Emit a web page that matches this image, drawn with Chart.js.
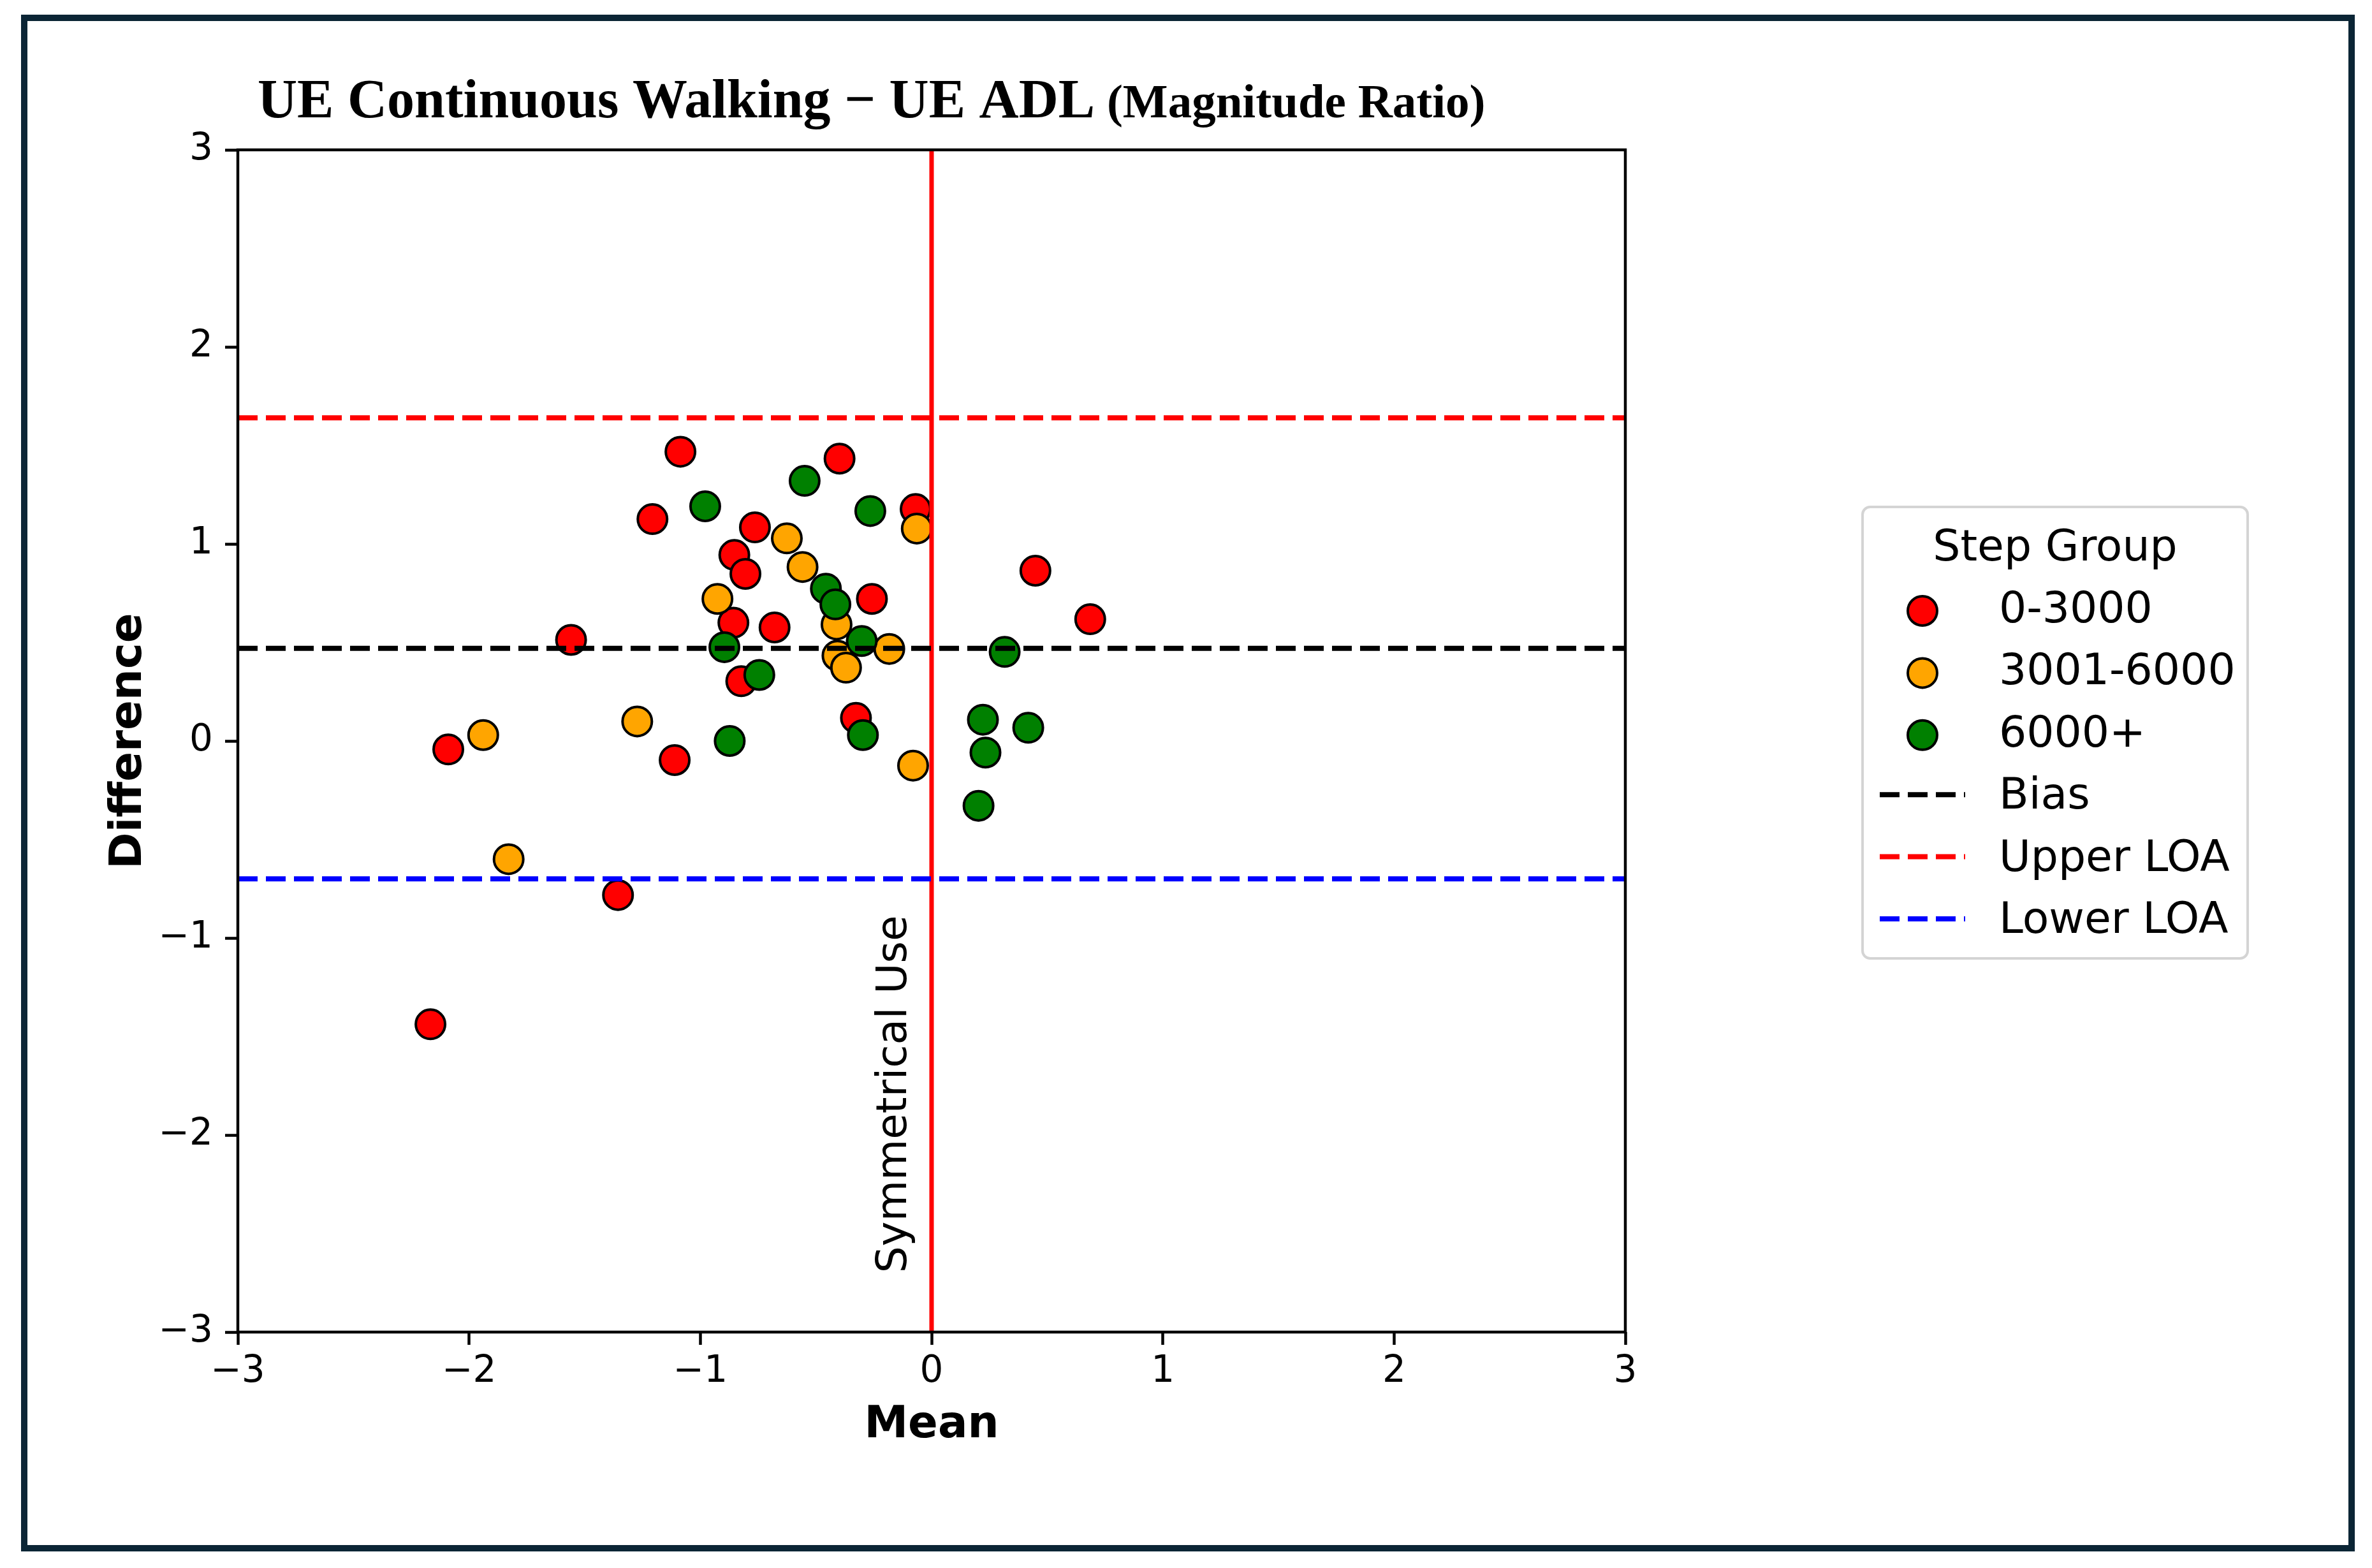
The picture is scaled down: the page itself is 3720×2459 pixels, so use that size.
<!DOCTYPE html>
<html>
<head>
<meta charset="utf-8">
<script src="https://cdn.jsdelivr.net/npm/chart.js@4.4.1/dist/chart.umd.min.js"></script>
<style>
  html, body { margin: 0; padding: 0; background: #fff; }
  #wrap { position: relative; width: 3720px; height: 2459px; }
  #frame {
    position: absolute; left: 33px; top: 23px; width: 3660px; height: 2410px;
    box-sizing: border-box; border: 10px solid #0b2535; pointer-events: none;
  }
</style>
</head>
<body>
<div id="wrap">
  <canvas id="bland" width="3720" height="2459"></canvas>
  <div id="frame"></div>
</div>
<script>
// step groups
const groupLabels = ['0-3000', '3001-6000', '6000+'];
const groupColors = ['#ff0000', '#ffa500', '#008000'];

// 0-3000 steps
const lowMean = [-1.086, -0.398, -0.069, -1.207, -0.764, -0.853, -0.805, -0.258, -0.857, -0.679,
                 -1.559, -0.823, -0.327, -2.090, -1.111, 0.449, 0.686, -1.356, -2.167];
const lowDiff = [1.468, 1.433, 1.177, 1.126, 1.084, 0.944, 0.848, 0.721, 0.600, 0.576,
                 0.513, 0.303, 0.117, -0.043, -0.097, 0.864, 0.618, -0.782, -1.438];

// 3001-6000 steps
const midMean = [-0.064, -0.626, -0.558, -0.926, -0.411, -0.183, -0.407, -0.370, -1.273, -1.939, -0.080, -1.829];
const midDiff = [1.078, 1.028, 0.883, 0.721, 0.591, 0.467, 0.433, 0.372, 0.099, 0.030, -0.125, -0.600];

// 6000+ steps
const highMean = [-0.549, -0.979, -0.265, -0.457, -0.416, -0.302, -0.896, -0.745, -0.297, -0.873,
                  0.222, 0.233, 0.203, 0.316, 0.418];
const highDiff = [1.320, 1.191, 1.167, 0.773, 0.693, 0.507, 0.476, 0.335, 0.030, 0.000,
                  0.108, -0.059, -0.329, 0.452, 0.067];

// bias and limits of agreement
const bias = 0.47;
const upperLOA = 1.64;
const lowerLOA = -0.70;

const axisTicks = [-3, -2, -1, 0, 1, 2, 3];
const symLabelAt = {x: -0.11, y: -2.70};

const toPoints = (xs, ys) => xs.map((x, i) => ({x: x, y: ys[i]}));
const fmtTick = v => (v < 0 ? '\u2212' + Math.abs(v) : String(v));
const lo = axisTicks[0], hi = axisTicks[axisTicks.length - 1];

function scatterSet(i, xs, ys, order) {
  return {
    label: groupLabels[i],
    data: toPoints(xs, ys),
    backgroundColor: groupColors[i],
    borderColor: '#000',
    borderWidth: 4,
    pointRadius: 23,
    pointHoverRadius: 23,
    order: order
  };
}

function hLine(label, y, color) {
  return {
    type: 'line', label: label,
    data: [{x: lo, y: y}, {x: hi, y: y}],
    borderColor: color, borderWidth: 8, borderDash: [31, 13],
    pointRadius: 0, fill: false, order: 0
  };
}

const datasets = [
  scatterSet(0, lowMean, lowDiff, 3),
  scatterSet(1, midMean, midDiff, 2),
  scatterSet(2, highMean, highDiff, 1),
  hLine('Bias', bias, '#000000'),
  hLine('Upper LOA', upperLOA, '#ff0000'),
  hLine('Lower LOA', lowerLOA, '#0000ff'),
  {
    type: 'line', label: '', noLegend: true,
    data: [{x: 0, y: lo}, {x: 0, y: hi}],
    borderColor: '#ff0000', borderWidth: 7, pointRadius: 0, fill: false, order: 0
  }
];

const decor = {
  id: 'decor',
  afterDatasetsDraw(chart) {
    const {ctx, chartArea: a} = chart;
    ctx.save();
    ctx.strokeStyle = '#000';
    ctx.lineWidth = 4.5;
    ctx.strokeRect(a.left, a.top, a.right - a.left, a.bottom - a.top);
    ctx.restore();
  },
  afterDraw(chart) {
    const ctx = chart.ctx;
    const xs = chart.scales.x, ys = chart.scales.y;
    ctx.save();

    // title, two sizes
    ctx.fillStyle = '#000';
    ctx.textBaseline = 'alphabetic';
    ctx.textAlign = 'left';
    ctx.font = 'bold 86px "Liberation Serif"';
    const main = 'UE Continuous Walking \u2212 UE ADL';
    ctx.fillText(main, 404, 184);
    const w = ctx.measureText(main).width;
    ctx.font = 'bold 75px "Liberation Serif"';
    ctx.fillText(' (Magnitude Ratio)', 404 + w, 184);

    // vertical label by the zero line
    ctx.save();
    ctx.translate(xs.getPixelForValue(symLabelAt.x), ys.getPixelForValue(symLabelAt.y));
    ctx.rotate(-Math.PI / 2);
    ctx.font = '66px "DejaVu Sans"';
    ctx.fillText('Symmetrical Use', 0, 0);
    ctx.restore();

    // legend box
    const bx = 2921, by = 795, bw = 604, bh = 708;
    ctx.beginPath();
    ctx.roundRect(bx, by, bw, bh, 12);
    ctx.fillStyle = 'rgba(255,255,255,0.8)';
    ctx.fill();
    ctx.strokeStyle = '#d4d4d4';
    ctx.lineWidth = 4;
    ctx.stroke();

    ctx.fillStyle = '#000';
    ctx.font = '68px "DejaVu Sans"';
    ctx.textAlign = 'center';
    ctx.fillText('Step Group', bx + bw / 2, 879);

    const items = chart.data.datasets.filter(d => !d.noLegend);
    const handleX = 3015, textX = 3135;
    items.forEach((d, i) => {
      const base = 976 + i * 97.4;
      if (d.type === 'line') {
        ctx.save();
        ctx.strokeStyle = d.borderColor;
        ctx.lineWidth = d.borderWidth;
        ctx.setLineDash(d.borderDash || []);
        ctx.beginPath();
        ctx.moveTo(handleX - 67, base - 22);
        ctx.lineTo(handleX + 67, base - 22);
        ctx.stroke();
        ctx.restore();
      } else {
        ctx.beginPath();
        ctx.arc(handleX, base - 18, d.pointRadius, 0, Math.PI * 2);
        ctx.fillStyle = d.backgroundColor;
        ctx.fill();
        ctx.lineWidth = d.borderWidth;
        ctx.strokeStyle = d.borderColor;
        ctx.stroke();
      }
      ctx.fillStyle = '#000';
      ctx.textAlign = 'left';
      ctx.fillText(d.label, textX, base);
    });
    ctx.restore();
  }
};

const tickFont = {family: 'DejaVu Sans', size: 58};
const titleFont = {family: 'DejaVu Sans', size: 69, weight: 'bold'};
const gridOpts = {display: true, drawOnChartArea: false, drawTicks: true, tickLength: 20, tickWidth: 4.5, tickColor: '#000'};

new Chart(document.getElementById('bland'), {
  type: 'scatter',
  data: {datasets: datasets},
  options: {
    responsive: false,
    animation: false,
    devicePixelRatio: 1,
    layout: {padding: {top: 235, right: 1171, bottom: 0, left: 0}},
    plugins: {
      legend: {display: false},
      title: {display: false},
      tooltip: {enabled: false}
    },
    scales: {
      x: {
        type: 'linear', min: lo, max: hi,
        afterBuildTicks: s => { s.ticks = axisTicks.map(v => ({value: v})); },
        afterFit: s => { s.height = 370; },
        grid: gridOpts,
        border: {display: false},
        ticks: {color: '#000', padding: 8, font: tickFont, callback: fmtTick, maxRotation: 0, autoSkip: false},
        title: {display: true, text: 'Mean', color: '#000', font: titleFont, padding: {top: 0, bottom: 182}}
      },
      y: {
        type: 'linear', min: lo, max: hi,
        afterBuildTicks: s => { s.ticks = axisTicks.map(v => ({value: v})); },
        afterFit: s => { s.width = 373; },
        grid: gridOpts,
        border: {display: false},
        ticks: {color: '#000', padding: 19, font: tickFont, callback: fmtTick, autoSkip: false},
        title: {display: true, text: 'Difference', color: '#000', font: titleFont, padding: {top: 162, bottom: 0}}
      }
    }
  },
  plugins: [decor]
});
</script>
</body>
</html>
